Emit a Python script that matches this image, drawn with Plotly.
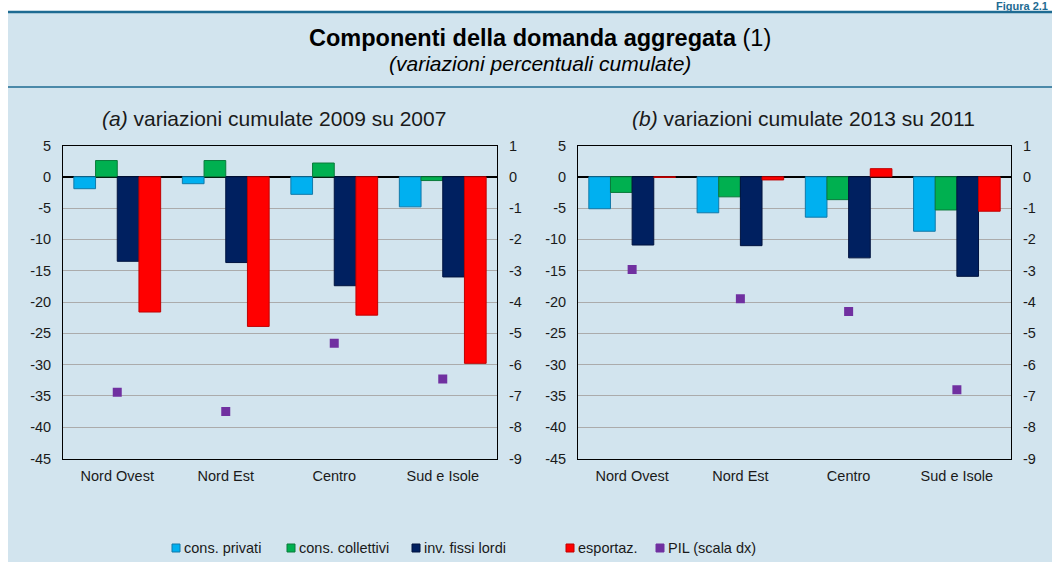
import plotly.graph_objects as go

W, H = 1052, 562

categories = ["Nord Ovest", "Nord Est", "Centro", "Sud e Isole"]
series_names = ["cons. privati", "cons. collettivi", "inv. fissi lordi", "esportaz."]
pil_name = "PIL (scala dx)"

# Panel (a): 2009 su 2007
a_cons_privati = [-1.9, -1.1, -2.8, -4.8]
a_cons_collettivi = [2.6, 2.6, 2.2, -0.6]
a_inv_fissi = [-13.5, -13.7, -17.4, -16.0]
a_esportaz = [-21.6, -23.9, -22.1, -29.8]
a_pil = [-6.88, -7.5, -5.32, -6.46]

# Panel (b): 2013 su 2011
b_cons_privati = [-5.1, -5.75, -6.45, -8.7]
b_cons_collettivi = [-2.5, -3.2, -3.65, -5.3]
b_inv_fissi = [-10.9, -11.0, -12.95, -15.9]
b_esportaz = [-0.1, -0.5, 1.3, -5.5]
b_pil = [-2.96, -3.9, -4.3, -6.8]

left_ticks = [5, 0, -5, -10, -15, -20, -25, -30, -35, -40, -45]
right_ticks = [1, 0, -1, -2, -3, -4, -5, -6, -7, -8, -9]

colors = ["#00B0F0", "#00B050", "#002060", "#FF0000"]
outlines = ["#1279A8", "#0B7A3B", "#00133F", "#C00000"]
pil_color = "#7030A0"
bg = "#D2E4EE"
rule = "#1E6B92"
font = "Liberation Sans, Arial, sans-serif"
tick_size = 14.5


def px(x):
    return x / W


def py(y):
    return 1 - y / H


fig = go.Figure()

panels = [
    ("x", "y", "y2", [a_cons_privati, a_cons_collettivi, a_inv_fissi, a_esportaz], a_pil),
    ("x2", "y3", "y4", [b_cons_privati, b_cons_collettivi, b_inv_fissi, b_esportaz], b_pil),
]
for xa, ya, ya2, vals, pil in panels:
    for name, v, c, oc in zip(series_names, vals, colors, outlines):
        fig.add_trace(go.Bar(x=categories, y=v, name=name, xaxis=xa, yaxis=ya,
                             marker=dict(color=c, line=dict(color=oc, width=1)),
                             showlegend=False))
    fig.add_trace(go.Scatter(x=categories, y=pil, name=pil_name, mode="markers",
                             xaxis=xa, yaxis=ya2,
                             marker=dict(symbol="square", size=9, color=pil_color),
                             showlegend=False))

ydom = [py(458.5), py(145.5)]
common_x = dict(type="category", showline=True, linecolor="black", linewidth=1,
                mirror=True, showgrid=False, ticks="", zeroline=False,
                ticklabelstandoff=4, automargin=False,
                tickfont=dict(family=font, size=tick_size, color="#1a1a1a"))
left_y = dict(range=[-45, 5], tickvals=left_ticks, ticktext=[str(v) for v in left_ticks],
              showgrid=True, gridcolor="#ABABAB", automargin=False,
              gridwidth=1, zeroline=True, zerolinecolor="black", zerolinewidth=1.5,
              showline=True, linecolor="black", linewidth=1, ticks="",
              ticklabelstandoff=8,
              tickfont=dict(family=font, size=tick_size, color="#1a1a1a"), domain=ydom)
right_y = dict(range=[-9, 1], tickvals=right_ticks, ticktext=[str(v) for v in right_ticks],
               side="right", showgrid=False, automargin=False,
               zeroline=False, showline=True, linecolor="black", linewidth=1, ticks="",
               ticklabelstandoff=8,
               tickfont=dict(family=font, size=tick_size, color="#1a1a1a"))

fig.update_layout(
    width=W, height=H, autosize=False,
    margin=dict(l=0, r=0, t=0, b=0, pad=0),
    paper_bgcolor="white",
    plot_bgcolor="white",
    barmode="group", bargap=0.2, bargroupgap=0,
    showlegend=False,
    xaxis=dict(common_x, domain=[px(63), px(497)], anchor="y"),
    xaxis2=dict(common_x, domain=[px(578), px(1011)], anchor="y3"),
    yaxis=dict(left_y, anchor="x"),
    yaxis2=dict(right_y, overlaying="y", anchor="x"),
    yaxis3=dict(left_y, anchor="x2"),
    yaxis4=dict(right_y, overlaying="y3", anchor="x2"),
)

shapes = [
    dict(type="rect", xref="paper", yref="paper", x0=px(8), x1=1.01, y0=-0.01, y1=py(12),
         fillcolor=bg, line=dict(width=0), layer="below"),
    dict(type="line", xref="paper", yref="paper", x0=px(8), x1=1.01, y0=py(12), y1=py(12),
         line=dict(color=rule, width=2.5)),
    dict(type="line", xref="paper", yref="paper", x0=px(8), x1=1.01, y0=py(87), y1=py(87),
         line=dict(color=rule, width=1.5)),
]

annotations = [
    dict(text="<b>Figura 2.1</b>", x=px(1049), y=py(-1), xref="paper", yref="paper",
         xanchor="right", yanchor="top", showarrow=False, borderpad=0,
         font=dict(family=font, size=11, color=rule)),
    dict(text="<b>Componenti della domanda aggregata</b> (1)", x=px(540), y=py(38),
         xref="paper", yref="paper", xanchor="center", yanchor="middle", showarrow=False,
         font=dict(family=font, size=23.5, color="black")),
    dict(text="<i>(variazioni percentuali cumulate)</i>", x=px(540), y=py(64),
         xref="paper", yref="paper", xanchor="center", yanchor="middle", showarrow=False,
         font=dict(family=font, size=21, color="black")),
    dict(text="<i>(a)</i> variazioni cumulate 2009 su 2007", x=px(274), y=py(118),
         xref="paper", yref="paper", xanchor="center", yanchor="middle", showarrow=False,
         font=dict(family=font, size=21, color="#1a1a1a")),
    dict(text="<i>(b)</i> variazioni cumulate 2013 su 2011", x=px(803), y=py(118),
         xref="paper", yref="paper", xanchor="center", yanchor="middle", showarrow=False,
         font=dict(family=font, size=21, color="#1a1a1a")),
]

# Legend (manual, to match positions)
legend_items = list(zip(series_names, colors, outlines)) + [(pil_name, pil_color, pil_color)]
legend_x = [172, 287, 412, 566, 656]
ly = 548
for (name, c, oc), lx in zip(legend_items, legend_x):
    shapes.append(dict(type="rect", xref="paper", yref="paper",
                       x0=px(lx), x1=px(lx + 8), y0=py(ly + 4), y1=py(ly - 4),
                       fillcolor=c, line=dict(color=oc, width=1)))
    annotations.append(dict(text=name, x=px(lx + 10), y=py(ly), xref="paper", yref="paper",
                            xanchor="left", yanchor="middle", showarrow=False,
                            font=dict(family=font, size=14.5, color="#1a1a1a")))

fig.update_layout(shapes=shapes, annotations=annotations)

post = ("document.documentElement.style.margin='0';document.documentElement.style.overflow='hidden';"
        "document.body.style.margin='0';document.body.style.padding='0';document.body.style.overflow='hidden';"
        "var gd=document.getElementById('{plot_id}');"
        "gd.style.position='absolute';gd.style.left='0px';gd.style.top='0px';")
fig.write_html("out.html", post_script=post, config={"displayModeBar": False})
